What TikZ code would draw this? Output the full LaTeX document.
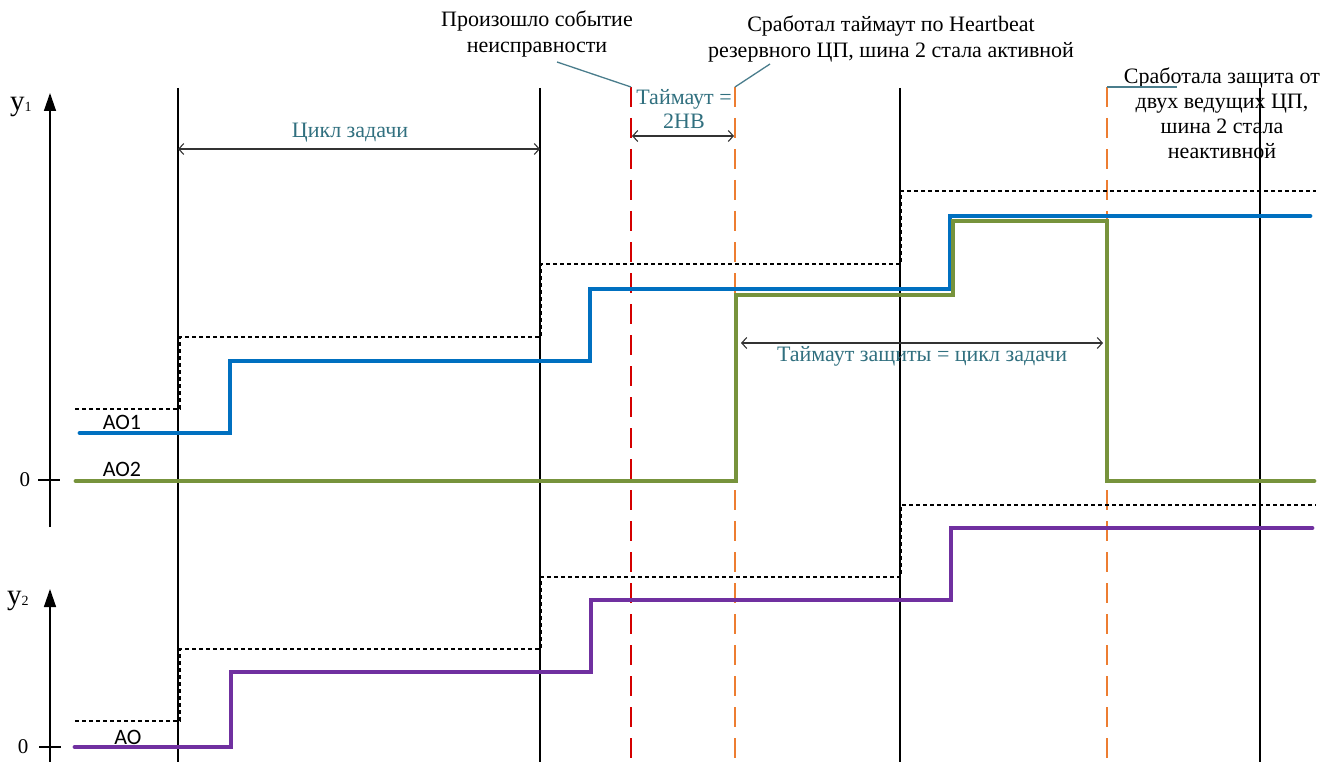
\documentclass[tikz,border=0pt]{standalone}
\usepackage{fontspec}
\setmainfont{Liberation Serif}
\newfontfamily\labelsans{Carlito}
\usetikzlibrary{arrows.meta}

\definecolor{aoblue}{HTML}{0070C0}
\definecolor{aogreen}{HTML}{77933C}
\definecolor{aopurple}{HTML}{7030A0}
\definecolor{evred}{HTML}{D40000}
\definecolor{evorange}{HTML}{ED7D31}
\definecolor{notetext}{HTML}{31707F}
\definecolor{leadercol}{HTML}{4A7D8C}

\tikzset{
  gridline/.style={line width=1.2pt, black},
  evline/.style={line width=2.3pt, dash pattern=on 20pt off 11pt},
  levelline/.style={line width=2.8pt, black, dash pattern=on 4pt off 3pt},
  signal/.style={line width=4.8pt, line cap=round, line join=miter},
  axisline/.style={line width=1.4pt, -{Triangle[length=18pt,width=12pt]}},
  tickline/.style={line width=1.2pt},
  spanarrow/.style={line width=1.1pt, black!80, {Straight Barb[length=5pt,width=11pt]}-{Straight Barb[length=5pt,width=11pt]}},
  leader/.style={line width=1.3pt, leadercol},
  serifnote/.style={font=\fontsize{22}{26}\selectfont, align=center, inner sep=0pt},
  spannote/.style={font=\fontsize{22}{24}\selectfont, text=notetext, align=center, inner sep=0pt},
  aolabel/.style={font=\labelsans\fontsize{22}{22}\selectfont, inner sep=0pt},
  zerolabel/.style={font=\fontsize{21}{21}\selectfont, inner sep=0pt}
}

\begin{document}
\begin{tikzpicture}[x=1pt, y=-1pt]
\useasboundingbox (0,0) rectangle (1322,762);

% axes
\coordinate (ya1) at (50,527);
\coordinate (yb1) at (50,93);
\coordinate (ya2) at (50,762);
\coordinate (yb2) at (50,589);
\draw[axisline] (ya1) -- (yb1);
\draw[axisline] (ya2) -- (yb2);
\coordinate (t1l) at (38,480); \coordinate (t1r) at (60,480);
\coordinate (t2l) at (39,747); \coordinate (t2r) at (61,747);
\draw[tickline] (t1l) -- (t1r);
\draw[tickline] (t2l) -- (t2r);
\node[zerolabel] (zero1) at (25,480) {0};
\node[zerolabel] (zero2) at (23,747) {0};
\node[inner sep=0pt, anchor=base west] (ylab1) at (10,111) {\fontsize{29}{29}\selectfont y\fontsize{14}{14}\selectfont\raisebox{-1pt}{1}};
\node[inner sep=0pt, anchor=base west] (ylab2) at (7,604) {\fontsize{29}{29}\selectfont y\fontsize{14}{14}\selectfont\raisebox{-1pt}{2}};

% task cycle grid
\foreach \gx/\gn in {178/g1, 540/g2, 900/g3, 1260/g4} {
  \coordinate (\gn t) at (\gx,88);
  \coordinate (\gn b) at (\gx,762);
  \draw[gridline] (\gn t) -- (\gn b);
}

% events
\coordinate (evat) at (631,87); \coordinate (evab) at (631,762);
\coordinate (evbt) at (735,87); \coordinate (evbb) at (735,762);
\coordinate (evct) at (1107,87); \coordinate (evcb) at (1107,762);
\draw[evline, evred] (evat) -- (evab);
\draw[evline, evorange] (evbt) -- (evbb);
\draw[evline, evorange] (evct) -- (evcb);

% dashed set points
\draw[levelline] (75,409) -- (180,409) -- (180,337) -- (541,337) -- (541,264) -- (901,264) -- (901,191) -- (1316,191);
\draw[levelline] (75,721) -- (180,721) -- (180,649) -- (541,649) -- (541,577) -- (901,577) -- (901,505) -- (1316,505);

% outputs
\draw[signal, aoblue] (80,433) -- (230,433) -- (230,361) -- (590,361) -- (590,289) -- (950,289) -- (950,216) -- (1310,216);
\draw[signal, aogreen] (76,481) -- (736,481) -- (736,295) -- (953,295) -- (953,221) -- (1107,221) -- (1107,481) -- (1314,481);
\draw[signal, aopurple] (75,747) -- (231,747) -- (231,672) -- (591,672) -- (591,600) -- (951,600) -- (951,528) -- (1312,528);

\node[aolabel] (ao1) at (122,422) {AO1};
\node[aolabel] (ao2) at (122,469) {AO2};
\node[aolabel] (ao) at (128,737) {AO};

% spans
\draw[spanarrow] (g1t |- 0,149) -- (g2t |- 0,149);
\node[spannote] (cyc) at (350,133) {Цикл задачи};
\draw[spanarrow] (632,136) -- (734,136);
\node[spannote] (hb) at (684,109) {Таймаут =\\2HB};
\draw[spanarrow] (741,343) -- (1103,343);
\node[spannote] (prot) at (922,356) {Таймаут защиты = цикл задачи};

% callouts
\node[serifnote] (fault) at (537,34) {Произошло событие\\неисправности};
\node[serifnote] (hbto) at (891,39) {Сработал таймаут по Heartbeat\\резервного ЦП, шина 2 стала активной};
\node[serifnote, font=\fontsize{22}{25}\selectfont] (guard) at (1222,113) {Сработала защита от\\двух ведущих ЦП,\\шина 2 стала\\неактивной};
\coordinate (faultend) at (557,62);
\coordinate (hbtoend) at (770,64);
\coordinate (guardend) at (1177,87);
\draw[leader] (evat) -- (faultend);
\draw[leader] (evbt) -- (hbtoend);
\draw[leader] (evct) -- (guardend);
\end{tikzpicture}
\end{document}
